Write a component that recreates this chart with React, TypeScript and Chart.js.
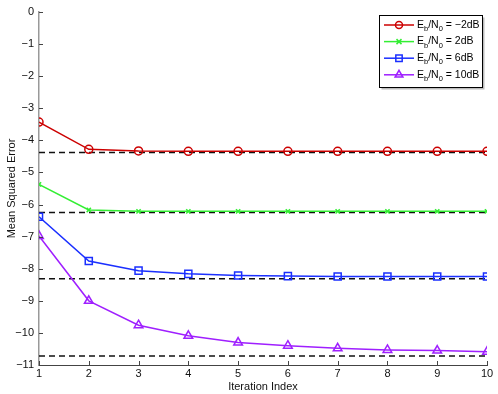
import React, { useEffect, useRef } from "react";
import { Chart, registerables } from "chart.js";

Chart.register(...registerables);

const iterations = [1, 2, 3, 4, 5, 6, 7, 8, 9, 10];
const snrLabels = ["\u22122dB", "2dB", "6dB", "10dB"];
const mseM2 = [-3.43, -4.28, -4.33, -4.34, -4.34, -4.34, -4.34, -4.34, -4.34, -4.34];
const mse2 = [-5.37, -6.17, -6.21, -6.21, -6.21, -6.21, -6.21, -6.21, -6.21, -6.21];
const mse6 = [-6.38, -7.76, -8.06, -8.16, -8.21, -8.23, -8.24, -8.24, -8.24, -8.24];
const mse10 = [-6.98, -9.0, -9.76, -10.09, -10.3, -10.4, -10.48, -10.53, -10.55, -10.59];
const bounds = [-4.38, -6.25, -8.31, -10.72];
const yTicks = [0, -1, -2, -3, -4, -5, -6, -7, -8, -9, -10, -11];

const colors = ["#cc0000", "#33ee33", "#1a2fff", "#9f1fff"];
const styles = ["circle", "crossRot", "rect", "triangle"];
const radii = [4, 3, 5, 5];
const FONT = "'Liberation Sans', Arial, sans-serif";

function drawMarker(ctx: CanvasRenderingContext2D, style: string, x: number, y: number, r: number, color: string) {
  ctx.save();
  ctx.strokeStyle = color;
  ctx.lineWidth = 1.5;
  ctx.beginPath();
  if (style === "circle") {
    ctx.arc(x, y, r, 0, Math.PI * 2);
  } else if (style === "crossRot") {
    ctx.moveTo(x - r, y - r); ctx.lineTo(x + r, y + r);
    ctx.moveTo(x + r, y - r); ctx.lineTo(x - r, y + r);
  } else if (style === "rect") {
    const s = r * Math.SQRT1_2;
    ctx.rect(x - s, y - s, 2 * s, 2 * s);
  } else {
    const h = r * 0.866;
    ctx.moveTo(x, y - r);
    ctx.lineTo(x + h, y + r / 2);
    ctx.lineTo(x - h, y + r / 2);
    ctx.closePath();
  }
  ctx.stroke();
  ctx.restore();
}

const innerTicks = {
  id: "innerTicks",
  afterDatasetsDraw(chart: any) {
    const { ctx, chartArea, scales } = chart;
    ctx.save();
    ctx.strokeStyle = "#444";
    ctx.lineWidth = 1;
    scales.x.ticks.forEach((t: any) => {
      const px = Math.round(scales.x.getPixelForValue(t.value)) + 0.5;
      ctx.beginPath();
      ctx.moveTo(px, chartArea.bottom);
      ctx.lineTo(px, chartArea.bottom - 4);
      ctx.stroke();
    });
    scales.y.ticks.forEach((t: any) => {
      const py = Math.round(scales.y.getPixelForValue(t.value)) + 0.5;
      ctx.beginPath();
      ctx.moveTo(chartArea.left, py);
      ctx.lineTo(chartArea.left + 4, py);
      ctx.stroke();
    });
    ctx.restore();
  },
};

const subLegend = {
  id: "subLegend",
  afterDraw(chart: any) {
    const { ctx } = chart;
    const bx = 379.5, by = 15.5, bw = 103, bh = 72;
    ctx.save();
    ctx.fillStyle = "#bbb";
    ctx.fillRect(bx + 2, by + 2, bw, bh);
    ctx.fillStyle = "#fff";
    ctx.fillRect(bx, by, bw, bh);
    ctx.strokeStyle = "#000";
    ctx.lineWidth = 1;
    ctx.strokeRect(bx, by, bw, bh);
    snrLabels.forEach((lab, i) => {
      const y = 25 + i * 16.6;
      ctx.strokeStyle = colors[i];
      ctx.lineWidth = 1.5;
      ctx.beginPath();
      ctx.moveTo(384, y);
      ctx.lineTo(414, y);
      ctx.stroke();
      drawMarker(ctx, styles[i], 399, y, radii[i] - 0.5, colors[i]);
      ctx.fillStyle = "#000";
      ctx.textBaseline = "middle";
      ctx.textAlign = "left";
      let x = 417;
      const parts: [string, boolean][] = [["E", false], ["b", true], ["/N", false], ["0", true], [" = " + lab, false]];
      parts.forEach(([t, sub]) => {
        ctx.font = (sub ? "7.5px " : "10.5px ") + FONT;
        ctx.fillText(t, x, sub ? y + 4 : y);
        x += ctx.measureText(t).width;
      });
    });
    ctx.restore();
  },
};

export default function App() {
  const ref = useRef<HTMLCanvasElement>(null);
  useEffect(() => {
    const series = [mseM2, mse2, mse6, mse10];
    const dataSets: any[] = series.map((s, i) => ({
      label: "Eb/N0 = " + snrLabels[i],
      data: s.map((v, j) => ({ x: iterations[j], y: v })),
      borderColor: colors[i],
      backgroundColor: "transparent",
      borderWidth: 1.5,
      pointStyle: styles[i],
      pointRadius: radii[i],
      pointBorderWidth: 1.5,
      pointBorderColor: colors[i],
      pointBackgroundColor: "transparent",
      tension: 0,
      order: 1,
    }));
    bounds.forEach((b) => {
      dataSets.push({
        label: "bound",
        data: [{ x: iterations[0], y: b }, { x: iterations[iterations.length - 1], y: b }],
        borderColor: "#111",
        borderWidth: 1.5,
        borderDash: [6, 4],
        pointRadius: 0,
        order: 2,
      });
    });
    const chart = new Chart(ref.current!, {
      type: "line",
      data: { datasets: dataSets },
      options: {
        animation: false,
        responsive: false,
        layout: { padding: { top: 12, right: 11, left: 0, bottom: 0 } },
        plugins: { legend: { display: false }, tooltip: { enabled: false } },
        scales: {
          x: {
            type: "linear",
            min: 1,
            max: 10,
            afterFit: (s: any) => { s.height = 29; },
            afterBuildTicks: (s: any) => { s.ticks = iterations.map((v) => ({ value: v })); },
            grid: { display: false, drawTicks: false, tickLength: 0 },
            border: { display: true, color: "#444", width: 1 },
            ticks: { color: "#111", font: { family: FONT, size: 11 }, padding: 2, maxRotation: 0 },
            title: { display: true, text: "Iteration Index", color: "#111", font: { family: FONT, size: 11 }, padding: { top: 0, bottom: 0 } },
          },
          y: {
            type: "linear",
            min: -11,
            max: 0,
            afterFit: (s: any) => { s.width = 39; },
            afterBuildTicks: (s: any) => { s.ticks = yTicks.map((v) => ({ value: v })); },
            grid: { display: false, drawTicks: false, tickLength: 0 },
            border: { display: true, color: "#999", width: 1.5 },
            ticks: {
              color: "#111",
              font: { family: FONT, size: 11 },
              padding: 5,
              callback: (v: any) => (v < 0 ? "\u2212" + Math.abs(v) : String(v)),
            },
            title: { display: true, text: "Mean Squared Error", color: "#111", font: { family: FONT, size: 11 }, padding: { top: 5, bottom: 0 } },
          },
        },
      },
      plugins: [innerTicks, subLegend],
    });
    return () => chart.destroy();
  }, []);
  return (
    <div style={{ position: "fixed", left: 0, top: 0, width: 498, height: 394, background: "#fff" }}>
      <canvas ref={ref} width={498} height={394} style={{ width: 498, height: 394 }} />
    </div>
  );
}
